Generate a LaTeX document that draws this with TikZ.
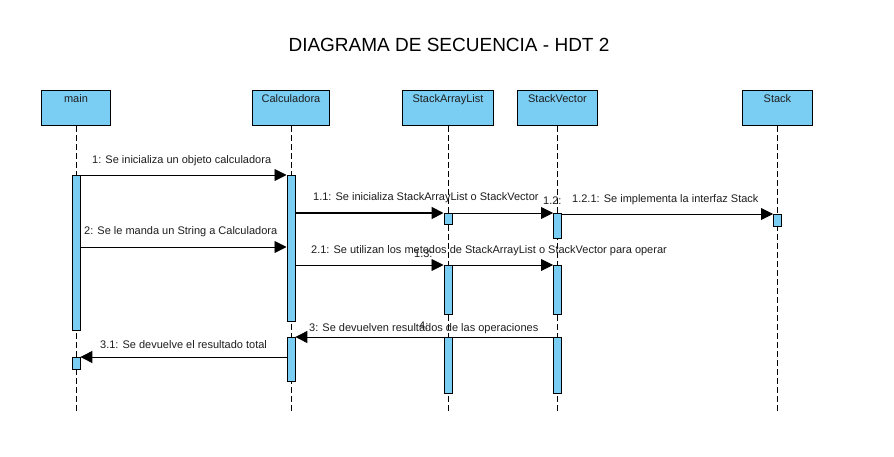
\documentclass[tikz,border=0pt]{standalone}
\usepackage{fontspec}
\setmainfont{Liberation Sans}
\usetikzlibrary{arrows.meta}
\definecolor{lblue}{RGB}{122,206,244}
\definecolor{txt}{RGB}{30,30,30}
\begin{document}
\begin{tikzpicture}[x=1pt,y=-1pt,
  obj/.style={draw=black, fill=lblue, line width=0.9pt, minimum width=#1, minimum height=35pt, anchor=north west, inner sep=0pt},
  objtxt/.style={anchor=north, inner sep=4.5pt, font=\fontsize{11}{13}\selectfont, text=txt},
  life/.style={draw=black, line width=0.8pt, dash pattern=on 6pt off 3pt},
  act/.style={draw=black, fill=lblue, line width=0.9pt, minimum width=8pt, anchor=north, inner sep=0pt},
  msg/.style={draw=black, line width=0.9pt, -{Triangle[length=12pt,width=12pt]}},
  msglbl/.style={anchor=base west, inner sep=0pt, font=\fontsize{11}{13}\selectfont, text=txt}
]
\useasboundingbox (0,0) rectangle (894,457);
\fill[white] (0,0) rectangle (894,457);

\node[font=\fontsize{19}{22}\selectfont] (title) at (449,45) {DIAGRAMA DE SECUENCIA - HDT 2};

% object boxes
\node[obj=69] (mainbox) at (41,90) {};
\node[obj=77] (calcbox) at (252,90) {};
\node[obj=91] (salbox) at (402,90) {};
\node[obj=80] (svbox) at (517,90) {};
\node[obj=70] (stbox) at (742,90) {};
\node[objtxt] (mainlbl) at (mainbox.north) {main};
\node[objtxt] (calclbl) at (calcbox.north) {Calculadora};
\node[objtxt] (sallbl) at (salbox.north) {StackArrayList};
\node[objtxt] (svlbl) at (svbox.north) {StackVector};
\node[objtxt] (stlbl) at (stbox.north) {Stack};

% lifelines
\coordinate (bot) at (0,413);
\draw[life] (mainbox.south) -- (mainbox.south |- bot);
\draw[life] (calcbox.south) -- (calcbox.south |- bot);
\draw[life] (salbox.south) -- (salbox.south |- bot);
\draw[life] (svbox.south) -- (svbox.south |- bot);
\draw[life] (stbox.south) -- (stbox.south |- bot);

% activations
\node[act, minimum height=155pt] (mainA1) at (mainbox.south |- 0,175) {};
\node[act, minimum height=12pt] (mainA2) at (mainbox.south |- 0,357) {};
\node[act, minimum height=146pt] (calcA1) at (calcbox.south |- 0,175) {};
\node[act, minimum height=44pt] (calcA2) at (calcbox.south |- 0,337) {};
\node[act, minimum height=11pt] (salA1) at (salbox.south |- 0,213) {};
\node[act, minimum height=49pt] (salA2) at (salbox.south |- 0,265) {};
\node[act, minimum height=56pt] (salA3) at (salbox.south |- 0,337) {};
\node[act, minimum height=25pt] (svA1) at (svbox.south |- 0,213) {};
\node[act, minimum height=49pt] (svA2) at (svbox.south |- 0,265) {};
\node[act, minimum height=56pt] (svA3) at (svbox.south |- 0,337) {};
\node[act, minimum height=12pt] (stA1) at (stbox.south |- 0,214) {};

% messages
\draw[msg] (mainA1.north east) -- (calcA1.north west);
\draw[msg, line width=1.8pt] (calcA1.east |- salA1.north) -- (salA1.north west);
\draw[msg] (salA1.north east) -- (svA1.north west);
\draw[msg] (svA1.east |- stA1.north) -- (stA1.north west);
\draw[msg] (mainA1.east |- 0,247) -- (calcA1.west |- 0,247);
\draw[msg] (calcA1.east |- salA2.north) -- (salA2.north west);
\draw[msg] (salA2.north east) -- (svA2.north west);
\draw[msg] (svA3.north west) -- (calcA2.north east);
\draw[msg] (calcA2.west |- mainA2.north) -- (mainA2.north east);

% labels
\node[msglbl] (m1) at (92,164) {1: Se inicializa un objeto calculadora};
\node[msglbl] (m11) at (313,201) {1.1: Se inicializa StackArrayList o StackVector};
\node[msglbl] (m12) at (543,205) {1.2:};
\node[msglbl] (m121) at (572,203) {1.2.1: Se implementa la interfaz Stack};
\node[msglbl] (m2) at (84,235) {2: Se le manda un String a Calculadora};
\node[msglbl] (m21) at (311,254) {2.1: Se utilizan los metodos de StackArrayList o StackVector para operar};
\node[msglbl] (m13) at (414,257) {1.3:};
\node[msglbl] (m3) at (309,331) {3: Se devuelven resultados de las operaciones};
\node[msglbl] (m4) at (419,329) {4:};
\node[msglbl] (m31) at (100,348) {3.1: Se devuelve el resultado total};
\end{tikzpicture}
\end{document}
